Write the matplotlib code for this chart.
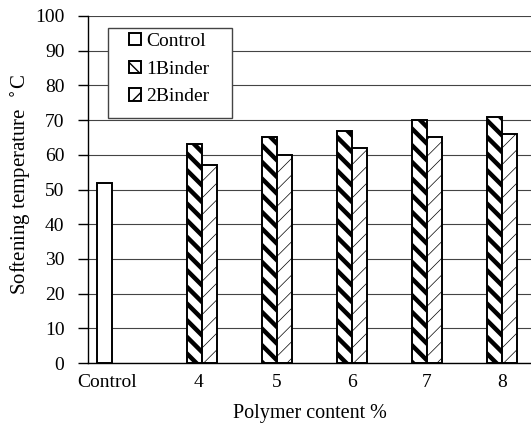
import matplotlib
matplotlib.use("Agg")
import matplotlib.pyplot as plt
from matplotlib.patches import Rectangle
import numpy as np

categories = ["Control", "4", "5", "6", "7", "8"]
control = [52, np.nan, np.nan, np.nan, np.nan, np.nan]
binder1 = [np.nan, 63, 65, 67, 70, 71]
binder2 = [np.nan, 57, 60, 62, 65, 66]
yticks = list(range(0, 101, 10))

plt.rcParams['font.family'] = ['Liberation Serif', 'DejaVu Serif']
plt.rcParams['font.size'] = 14

fig = plt.figure(figsize=(5.31, 4.32), dpi=100)
ax = fig.add_axes([88/531, 1-363/432, 1-88/531, (363-16)/432])

x = np.arange(len(categories))
w = 0.2
with plt.rc_context({'hatch.linewidth': 0.8}):
    ax.bar(x - 1.5*w, control, w, color='white', edgecolor='black', linewidth=1.4, label='Control', zorder=3)
with plt.rc_context({'hatch.linewidth': 3.2}):
    ax.bar(x - 0.5*w, binder1, w, color='white', edgecolor='black', linewidth=1.4, hatch='\\\\', label='1Binder', zorder=3)
with plt.rc_context({'hatch.linewidth': 0.5}):
    ax.bar(x + 0.5*w, binder2, w, color='white', edgecolor='black', linewidth=1.4, hatch='//', label='2Binder', zorder=3)

ax.set_xlim(-0.52, 5.387)
ax.set_ylim(0, 100)
ax.set_yticks(yticks)
ax.set_xticks([-0.27, 0.95, 2, 3, 4, 5])
ax.set_xticklabels(categories)
ax.tick_params(axis='x', length=0, pad=8)
ax.tick_params(axis='y', length=7, width=1, pad=10, direction='out')
ax.yaxis.grid(True, color='#444444', linewidth=0.8, zorder=0)
ax.set_axisbelow(True)
for s in ['top', 'right']:
    ax.spines[s].set_visible(False)
ax.spines['left'].set_linewidth(1)
ax.spines['bottom'].set_linewidth(1)

ax.set_xlabel('Polymer content %', fontsize=14.5)
ax.xaxis.set_label_coords(0.5, -0.118)
ax.set_ylabel('Softening temperature  $^{\\circ}$C', fontsize=15)
ax.yaxis.set_label_coords(-0.125, 0.515)

box = Rectangle((108/531, 1-118/432), 124/531, 90/432, transform=fig.transFigure,
                facecolor='white', edgecolor='#444444', linewidth=1, zorder=4, clip_on=False)
ax.add_patch(box)
ax.legend(loc='upper left', bbox_to_anchor=(129/531, 1-33/432), bbox_transform=fig.transFigure,
          frameon=False, borderpad=0, borderaxespad=0, handlelength=0.6, handleheight=0.6,
          handletextpad=0.3, labelspacing=0.55, fontsize=14)

fig.savefig('out.png', dpi=100)
